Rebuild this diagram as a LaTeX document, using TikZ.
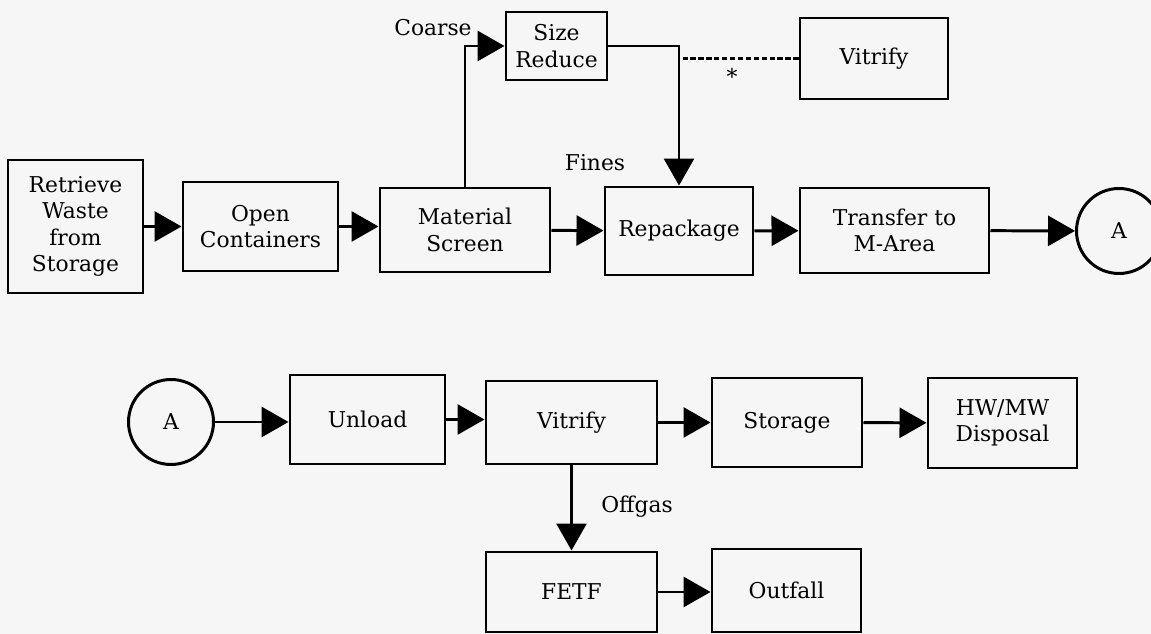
\documentclass[tikz,border=0pt]{standalone}
\usepackage{fontspec}
\setmainfont{DejaVu Serif}
\usepackage{tikz}
\usetikzlibrary{arrows.meta,calc}
\usepackage{xcolor}
\definecolor{paper}{HTML}{F6F6F6}

\begin{document}
\begin{tikzpicture}[
    >={Triangle[length=5.4mm, width=6mm]},
    box/.style={draw, line width=1.7pt, align=center, inner sep=2pt},
    circ/.style={draw, circle, line width=1.7pt, minimum size=1.7cm, inner sep=0pt},
    conn/.style={->, line width=1.7pt},
    dotted link/.style={line width=1.3pt, dash pattern=on 3pt off 1.5pt},
    tag/.style={inner sep=1pt},
    every node/.style={font=\fontsize{12.4}{15}\selectfont}
]

% ---- Page ----
\path[fill=paper, use as bounding box] (0,0) rectangle (23.02,-12.68);

% ---- Top line: retrieval to transfer ----
\node[box, minimum width=2.7cm, minimum height=2.66cm] (retrieve) at (1.51,-4.53) {Retrieve\\Waste\\from\\Storage};
\node[box, minimum width=3.1cm, minimum height=1.78cm] (open) at (5.21,-4.53) {Open\\Containers};
\node[box, minimum width=3.4cm, minimum height=1.68cm] (screen) at (9.3,-4.6) {Material\\Screen};
\node[box, minimum width=2.02cm, minimum height=1.36cm] (sizered) at (11.13,-0.92) {Size\\Reduce};
\node[box, minimum width=2.96cm, minimum height=1.62cm] (vitrtop) at (17.48,-1.17) {Vitrify};
\node[box, minimum width=2.96cm, minimum height=1.76cm] (repack) at (13.58,-4.62) {Repackage};
\node[box, minimum width=3.78cm, minimum height=1.7cm] (transfer) at (17.89,-4.61) {Transfer to\\M-Area};
\node[circ] (linkout) at (22.38,-4.62) {A};

% ---- Bottom line: M-Area ----
\node[circ] (linkin) at (3.42,-8.44) {A};
\node[box, minimum width=3.1cm, minimum height=1.78cm] (unload) at (7.35,-8.39) {Unload};
\node[box, minimum width=3.42cm, minimum height=1.66cm] (vitrify) at (11.43,-8.45) {Vitrify};
\node[box, minimum width=3cm, minimum height=1.78cm] (storage) at (15.74,-8.45) {Storage};
\node[box, minimum width=2.98cm, minimum height=1.8cm] (disposal) at (20.05,-8.46) {HW/MW\\Disposal};
\node[box, minimum width=3.42cm, minimum height=1.6cm] (fetf) at (11.43,-11.84) {FETF};
\node[box, minimum width=2.98cm, minimum height=1.66cm] (outfall) at (15.73,-11.81) {Outfall};

% ---- Labels ----
\node[tag] (coarse) at (8.66,-0.56) {Coarse};
\node[tag] (fines) at (11.9,-3.26) {Fines};
\node[tag] (star) at (14.64,-1.52) {*};
\node[tag] (offgas) at (12.74,-10.14) {Offgas};

% ---- Top arrows ----
\draw[conn] (retrieve) -- (open);
\draw[conn] (open.east) -- (open.east -| screen.west);
\draw[conn] (screen) -- (repack);
\draw[conn] (repack) -- (transfer);
\draw[conn] (transfer) -- (linkout);
\draw[conn] (screen.north) |- (sizered.west);
\draw[conn] (sizered.east) -| (repack.north);
\draw[dotted link] (vitrtop.west) -- (vitrtop.west -| repack.north);

% ---- Bottom arrows ----
\draw[conn] (linkin.east) -- (linkin.east -| unload.west);
\draw[conn] (unload.east) -- (unload.east -| vitrify.west);
\draw[conn] (vitrify) -- (storage);
\draw[conn] (storage) -- (disposal);
\draw[conn] (vitrify) -- (fetf);
\draw[conn] (fetf.east) -- (fetf.east -| outfall.west);

\end{tikzpicture}
\end{document}
